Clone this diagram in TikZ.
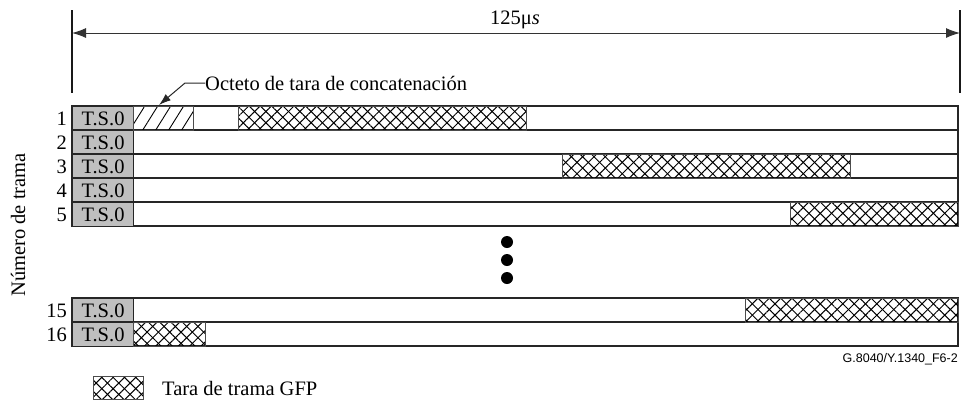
\documentclass[tikz,border=0pt]{standalone}
\usepackage{fontspec}
\setmainfont{Liberation Serif}
\setsansfont{Liberation Sans}
\usetikzlibrary{patterns.meta,arrows.meta}
\begin{document}
\begin{tikzpicture}[x=1pt,y=-1pt,
  txt/.style={font=\fontsize{20.5}{24}\selectfont, inner sep=0pt},
  rowbox/.style={draw=black!85, line width=1.1pt},
  tsbox/.style={draw=black!85, line width=1.1pt, fill=black!25},
  xh/.style={draw=black!70, line width=0.8pt,
    pattern={Lines[angle=45,distance=8pt,line width=1pt]},
    preaction={pattern={Lines[angle=-45,distance=8pt,line width=1pt]}}},
  dh/.style={draw=black!70, line width=0.8pt,
    pattern={Lines[angle=58,distance=11pt,line width=0.9pt]}},
  tick/.style={line width=2pt, black!90},
  dimarrow/.style={line width=1pt, black!80, {Latex[length=14pt,width=10pt]}-{Latex[length=14pt,width=10pt]}},
  dot/.style={circle, fill=black, inner sep=0pt, minimum size=12pt}
]
\useasboundingbox (0,0) rectangle (962,400);

% dimension
\draw[tick] (72,10) -- (72,93);
\draw[tick] (960,10) -- (960,93);
\coordinate (dl) at (72,33);
\coordinate (dr) at (960,33);
\draw[dimarrow] (dl) -- (dr);
\node[txt] (t125) at (515,20) {125μ\textit{s}};

% rows
\foreach \n/\y in {1/106,2/130,3/154,4/178,5/202,15/298,16/322}{
  \draw[rowbox] (72,\y) rectangle (958,\y+24);
  \node[tsbox, minimum width=61pt, minimum height=24pt, anchor=north west, inner sep=0pt,
        font=\fontsize{20.5}{24}\selectfont] (ts\n) at (72,\y) {T.S.0};
  \node[txt, anchor=east] (n\n) at (67,\y+13) {\n};
}

% row 1
\draw[dh] (133,106) rectangle (193,130);
\coordinate (hatchtip) at (159,105);
\draw[xh] (238,106) rectangle (526,130);
% row 3
\draw[xh] (562,154) rectangle (850,178);
% row 5
\draw[xh] (790,202) rectangle (958,226);
% row 15
\draw[xh] (745,298) rectangle (958,322);
% row 16
\draw[xh] (133,322) rectangle (205,346);

% leader label
\node[txt, anchor=west] (oct) at (205,83) {Octeto de tara de concatenación};
\draw[line width=1pt, black!85, -{Latex[length=12pt,width=8pt]}] (oct.west) -- ++(-20,0) -- (hatchtip);

% dots
\node[dot] (d1) at (507,242) {};
\node[dot] (d2) at (507,260) {};
\node[dot] (d3) at (507,278) {};

% axis label
\node[txt, rotate=90] (ylab) at (18,225) {Número de trama};

% figure id
\node[font=\sffamily\fontsize{12.5}{14}\selectfont, anchor=base east, inner sep=0pt] (fid) at (958,362) {G.8040/Y.1340\_F6-2};

% legend
\draw[xh] (93,376) rectangle (143,399);
\node[txt, anchor=west] (leg) at (162,388) {Tara de trama GFP};
\end{tikzpicture}
\end{document}
